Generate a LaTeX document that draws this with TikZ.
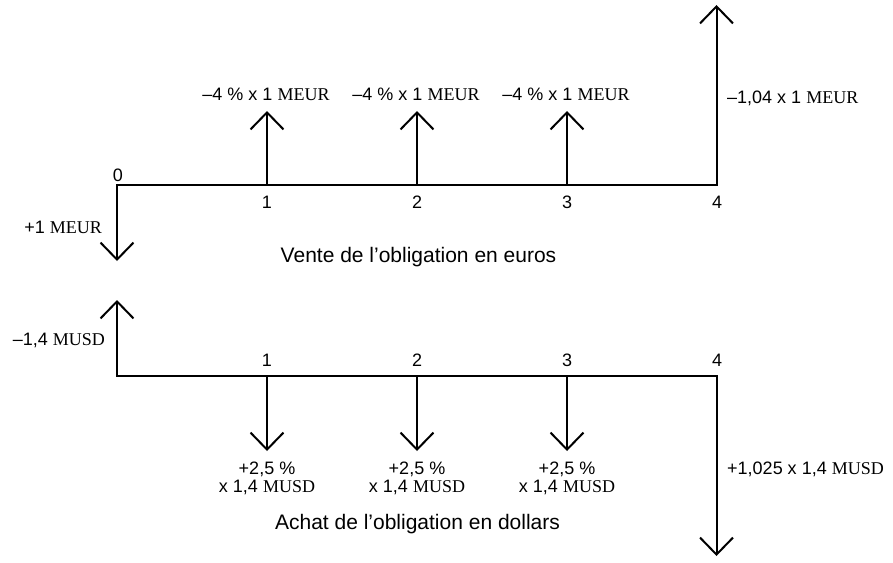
\documentclass[tikz,border=0pt]{standalone}
\usepackage{fontspec}
\setmainfont{Liberation Sans}
\newfontfamily\tms{Liberation Serif}
\usetikzlibrary{arrows.meta}
\tikzset{
  tip/.tip={Straight Barb[length=17pt,width=33pt,line width=2pt]},
  flow/.style={line width=2pt, line join=miter, -tip},
  flowtwo/.style={line width=2pt, line join=miter, tip-tip},
  lbl/.style={inner sep=0pt, anchor=base, font=\fontsize{18}{18}\selectfont},
  captxt/.style={inner sep=0pt, anchor=base, font=\fontsize{21}{24}\selectfont},
}
\begin{document}
\begin{tikzpicture}[x=1pt,y=-1pt]
\useasboundingbox (0,0) rectangle (893,562);
% top axis
\coordinate (a0) at (117,185);
\coordinate (a1) at (267,185);
\coordinate (a2) at (417,185);
\coordinate (a3) at (567,185);
\coordinate (a4) at (716.5,185);
\coordinate (da0) at (117,261);
\coordinate (ua1) at (267,111);
\coordinate (ua2) at (417,111);
\coordinate (ua3) at (567,111);
\coordinate (ua4) at (716.5,5);
\draw[flowtwo] (da0) -- (a0) -- (a4) -- (ua4);
\draw[flow] (a1) -- (ua1);
\draw[flow] (a2) -- (ua2);
\draw[flow] (a3) -- (ua3);
\node[lbl] (t0) at (118,181) {0};
\node[lbl] (t1) at (267,208) {1};
\node[lbl] (t2) at (417,208) {2};
\node[lbl] (t3) at (567,208) {3};
\node[lbl] (t4) at (717,208) {4};
\node[lbl] (l1) at (266,100.5) {–4 \% x 1 {\tms MEUR}};
\node[lbl] (l2) at (416,100.5) {–4 \% x 1 {\tms MEUR}};
\node[lbl] (l3) at (566,100.5) {–4 \% x 1 {\tms MEUR}};
\node[lbl, anchor=base west] (l4) at (727,103.5) {–1,04 x 1 {\tms MEUR}};
\node[lbl, anchor=base east] (l0) at (102,233.5) {+1 {\tms MEUR}};
\node[captxt] (c1) at (418.5,262) {Vente de l’obligation en euros};
% bottom axis
\coordinate (b0) at (117,376);
\coordinate (b1) at (267,376);
\coordinate (b2) at (417,376);
\coordinate (b3) at (567,376);
\coordinate (b4) at (716.5,376);
\coordinate (ub0) at (117,300);
\coordinate (db1) at (267,451);
\coordinate (db2) at (417,451);
\coordinate (db3) at (567,451);
\coordinate (db4) at (716.5,556);
\draw[flowtwo] (ub0) -- (b0) -- (b4) -- (db4);
\draw[flow] (b1) -- (db1);
\draw[flow] (b2) -- (db2);
\draw[flow] (b3) -- (db3);
\node[lbl] (s1) at (267,366) {1};
\node[lbl] (s2) at (417,366) {2};
\node[lbl] (s3) at (567,366) {3};
\node[lbl] (s4) at (717,366) {4};
\node[lbl, anchor=base east] (m0) at (105,345) {–1,4 {\tms MUSD}};
\node[lbl, align=center] (m1) at (267,492) {+2,5 \%\\x 1,4 {\tms MUSD}};
\node[lbl, align=center] (m2) at (417,492) {+2,5 \%\\x 1,4 {\tms MUSD}};
\node[lbl, align=center] (m3) at (567,492) {+2,5 \%\\x 1,4 {\tms MUSD}};
\node[lbl, anchor=base west] (m4) at (727,474.5) {+1,025 x 1,4 {\tms MUSD}};
\node[captxt] (c2) at (417.5,529) {Achat de l’obligation en dollars};
\end{tikzpicture}
\end{document}
